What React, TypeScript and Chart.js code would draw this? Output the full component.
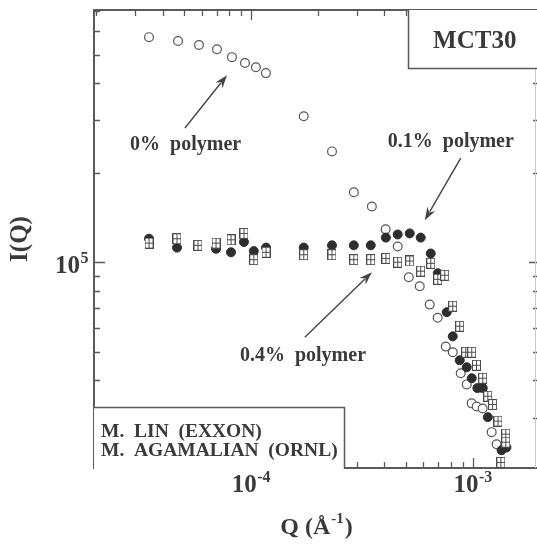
import React, { useEffect, useRef } from "react";
import { Chart, registerables } from "chart.js";

Chart.register(...registerables);

// ---- data (Q in 1/Å, I(Q) arbitrary) ----
const q0 = [3.47e-5, 4.69e-5, 5.83e-5, 7.03e-5, 8.21e-5, 9.4e-5, 1.053e-4, 1.168e-4, 1.73e-4, 2.32e-4, 2.91e-4, 3.51e-4, 4.05e-4, 4.59e-4, 5.15e-4, 5.77e-4, 6.4e-4, 6.95e-4, 7.56e-4, 8.13e-4, 8.83e-4, 9.4e-4, 9.89e-4, 1.042e-3, 1.109e-3, 1.218e-3, 1.282e-3];
const i0 = [5.72e5, 5.55e5, 5.38e5, 5.21e5, 4.9e5, 4.68e5, 4.53e5, 4.33e5, 3.1e5, 2.36e5, 1.72e5, 1.54e5, 1.29e5, 1.13e5, 8.9e4, 8.3e4, 7.2e4, 6.5e4, 5.2e4, 4.98e4, 4.23e4, 3.88e4, 3.35e4, 3.27e4, 3.22e4, 2.68e4, 2.44e4];

const q01 = [3.47e-5, 4.64e-5, 6.96e-5, 8.13e-5, 9.3e-5, 1.03e-4, 1.17e-4, 1.73e-4, 2.32e-4, 2.91e-4, 3.47e-4, 4.06e-4, 4.59e-4, 5.2e-4, 5.83e-4, 6.47e-4, 6.96e-4, 7.64e-4, 8.13e-4, 8.74e-4, 9.4e-4, 9.9e-4, 1.05e-3, 1.11e-3, 1.17e-3, 1.35e-3, 1.42e-3];
const i01 = [1.2e5, 1.12e5, 1.11e5, 1.08e5, 1.17e5, 1.09e5, 1.12e5, 1.12e5, 1.14e5, 1.14e5, 1.14e5, 1.21e5, 1.24e5, 1.25e5, 1.21e5, 1.07e5, 9.18e4, 6.79e4, 5.63e4, 4.68e4, 4.43e4, 4.07e4, 3.77e4, 3.77e4, 3.01e4, 2.33e4, 2.38e4];

const q04 = [3.47e-5, 4.64e-5, 5.77e-5, 6.96e-5, 8.13e-5, 9.3e-5, 1.03e-4, 1.17e-4, 1.73e-4, 2.32e-4, 2.91e-4, 3.47e-4, 4.06e-4, 4.59e-4, 5.2e-4, 5.83e-4, 6.47e-4, 6.96e-4, 7.48e-4, 8.13e-4, 8.74e-4, 9.3e-4, 9.9e-4, 1.04e-3, 1.11e-3, 1.17e-3, 1.23e-3, 1.3e-3, 1.41e-3, 1.41e-3, 1.34e-3];
const i04 = [1.16e5, 1.2e5, 1.14e5, 1.16e5, 1.19e5, 1.25e5, 1.02e5, 1.08e5, 1.06e5, 1.06e5, 1.02e5, 1.02e5, 1.03e5, 1.0e5, 1.01e5, 9.33e4, 9.92e4, 8.76e4, 9.04e4, 7.11e4, 6.09e4, 4.98e4, 4.98e4, 4.5e4, 4.07e4, 3.54e4, 3.32e4, 2.92e4, 2.64e4, 2.48e4, 2.12e4];

// axis ranges and tick labels (as powers of ten)
const X_MIN = 1.96e-5;
const X_MAX = 1.95e-3;
const Y_MIN = 2.03e4;
const Y_MAX = 7.06e5;
const xLabelExps = [-4, -3];
const yLabelExps = [5];

// annotations (in data coordinates)
const notes = [
  { text: "0%  polymer", q: 2.85e-5, i: 2.48e5 },
  { text: "0.1%  polymer", q: 4.14e-4, i: 2.54e5 },
  { text: "0.4%  polymer", q: 8.92e-5, i: 4.83e4 },
];
const arrows = [
  { q1: 5.04e-5, i1: 2.83e5, q2: 7.8e-5, i2: 4.26e5 },
  { q1: 8.83e-4, i1: 2.24e5, q2: 6.08e-4, i2: 1.385e5 },
  { q1: 1.75e-4, i1: 5.59e4, q2: 3.51e-4, i2: 9.25e4 },
];
const titleBox = { text: "MCT30", qLeft: 5.09e-4, iBottom: 4.5e5 };
const creditBox = { lines: ["M.  LIN  (EXXON)", "M.  AGAMALIAN  (ORNL)"], qRight: 2.62e-4, iTop: 3.25e4 };

const FONT = '"Liberation Serif", "Times New Roman", serif';
const INK = "#3a3a3a";
const FRAME = "#5a5a5a";

function makeGridSquare(): HTMLCanvasElement {
  const c = document.createElement("canvas");
  c.width = 9;
  c.height = 11;
  const g = c.getContext("2d")!;
  g.fillStyle = "#fff";
  g.fillRect(0, 0, 9, 11);
  g.strokeStyle = "#4a4a4a";
  g.lineWidth = 1;
  g.strokeRect(0.5, 0.5, 8, 10);
  g.beginPath();
  g.moveTo(4.5, 0.5);
  g.lineTo(4.5, 10.5);
  g.moveTo(0.5, 5.5);
  g.lineTo(8.5, 5.5);
  g.stroke();
  return c;
}

function drawPow(ctx: CanvasRenderingContext2D, exp: string, x: number, y: number, align: "center" | "right", big: number, small: number, rise: number) {
  ctx.font = `bold ${big}px ${FONT}`;
  const w1 = ctx.measureText("10").width;
  ctx.font = `bold ${small}px ${FONT}`;
  const w2 = ctx.measureText(exp).width;
  const total = w1 + w2;
  const left = align === "center" ? x - total / 2 : x - total;
  ctx.textAlign = "left";
  ctx.textBaseline = "alphabetic";
  ctx.font = `bold ${big}px ${FONT}`;
  ctx.fillText("10", left, y);
  ctx.font = `bold ${small}px ${FONT}`;
  ctx.fillText(exp, left + w1 + 0.5, y - rise);
}

const decor = {
  id: "decor",
  beforeDatasetsDraw(chart: any) {
    const { ctx, chartArea: a, scales } = chart;
    const xs = scales.x;
    const ys = scales.y;
    ctx.save();
    ctx.strokeStyle = FRAME;
    ctx.lineWidth = 1.3;
    // x ticks (bottom, top)
    for (let e = -5; e <= -3; e++) {
      for (let k = 1; k <= 9; k++) {
        const v = k * Math.pow(10, e);
        if (v < X_MIN || v > X_MAX) continue;
        const px = Math.round(xs.getPixelForValue(v)) + 0.5;
        const len = k === 1 ? 10 : 6;
        ctx.beginPath();
        ctx.moveTo(px, a.bottom);
        ctx.lineTo(px, a.bottom - len);
        ctx.moveTo(px, a.top);
        ctx.lineTo(px, a.top + len);
        ctx.stroke();
      }
    }
    // y ticks (left, right)
    for (let e = 4; e <= 5; e++) {
      for (let k = 1; k <= 9; k++) {
        const v = k * Math.pow(10, e);
        if (v < Y_MIN || v > Y_MAX) continue;
        const py = Math.round(ys.getPixelForValue(v)) + 0.5;
        const len = k === 1 ? 11 : 6;
        ctx.beginPath();
        ctx.moveTo(a.left, py);
        ctx.lineTo(a.left + len, py);
        ctx.moveTo(a.right, py);
        ctx.lineTo(a.right - (k === 1 ? 8 : 4), py);
        ctx.stroke();
      }
    }
    // frame
    ctx.lineWidth = 2;
    ctx.strokeStyle = FRAME;
    ctx.beginPath();
    ctx.moveTo(a.right, a.top);
    ctx.lineTo(a.left, a.top);
    ctx.lineTo(a.left, a.bottom);
    ctx.lineTo(a.right, a.bottom);
    ctx.stroke();
    ctx.strokeStyle = "#c8c8c8";
    ctx.lineWidth = 1;
    ctx.beginPath();
    ctx.moveTo(a.right - 1.5, a.top);
    ctx.lineTo(a.right - 1.5, a.bottom);
    ctx.stroke();

    // tick labels
    ctx.fillStyle = INK;
    xLabelExps.forEach((e) => {
      const px = xs.getPixelForValue(Math.pow(10, e));
      drawPow(ctx, String(e), px, 492, "center", 25, 16, 10);
    });
    yLabelExps.forEach((e) => {
      const py = ys.getPixelForValue(Math.pow(10, e));
      drawPow(ctx, String(e), 88, py + 11, "right", 25, 16, 10);
    });

    // axis titles
    const cx = (a.left + a.right) / 2;
    ctx.font = `bold 24px ${FONT}`;
    const p1 = "Q (Å";
    const w1 = ctx.measureText(p1).width;
    ctx.font = `bold 15px ${FONT}`;
    const p2 = "-1";
    const w2 = ctx.measureText(p2).width;
    ctx.font = `bold 24px ${FONT}`;
    const w3 = ctx.measureText(")").width;
    let sx = cx - (w1 + w2 + w3) / 2;
    ctx.textAlign = "left";
    ctx.textBaseline = "alphabetic";
    ctx.fillText(p1, sx, 534);
    ctx.font = `bold 15px ${FONT}`;
    ctx.fillText(p2, sx + w1 + 1, 523);
    ctx.font = `bold 24px ${FONT}`;
    ctx.fillText(")", sx + w1 + w2 + 2, 534);

    ctx.save();
    ctx.translate(21, (a.top + a.bottom) / 2);
    ctx.rotate(-Math.PI / 2);
    ctx.textAlign = "center";
    ctx.textBaseline = "middle";
    ctx.font = `bold 25px ${FONT}`;
    ctx.fillText("I(Q)", 0, 0);
    ctx.restore();
    ctx.restore();
  },
  afterDatasetsDraw(chart: any) {
    const { ctx, chartArea: a, scales } = chart;
    const xs = scales.x;
    const ys = scales.y;
    ctx.save();
    // title box
    const bl = Math.round(xs.getPixelForValue(titleBox.qLeft)) + 0.5;
    const bb = Math.round(ys.getPixelForValue(titleBox.iBottom)) + 0.5;
    ctx.fillStyle = "#fff";
    ctx.fillRect(bl, a.top, a.right - bl + 2, bb - a.top);
    ctx.strokeStyle = FRAME;
    ctx.lineWidth = 1.5;
    ctx.beginPath();
    ctx.moveTo(bl, a.top);
    ctx.lineTo(bl, bb);
    ctx.lineTo(a.right + 2, bb);
    ctx.stroke();
    ctx.fillStyle = INK;
    ctx.font = `bold 25px ${FONT}`;
    ctx.textAlign = "center";
    ctx.textBaseline = "middle";
    ctx.fillText(titleBox.text, (bl + a.right) / 2 + 2, (a.top + bb) / 2 + 2);

    // credit box
    const cr = Math.round(xs.getPixelForValue(creditBox.qRight)) + 0.5;
    const ct = Math.round(ys.getPixelForValue(creditBox.iTop)) + 0.5;
    ctx.fillStyle = "#fff";
    ctx.fillRect(a.left, ct, cr - a.left, a.bottom - ct + 1);
    ctx.beginPath();
    ctx.moveTo(a.left, ct);
    ctx.lineTo(cr, ct);
    ctx.lineTo(cr, a.bottom + 1);
    ctx.stroke();
    ctx.fillStyle = INK;
    ctx.font = `bold 19.5px ${FONT}`;
    ctx.textAlign = "left";
    ctx.textBaseline = "alphabetic";
    creditBox.lines.forEach((t, k) => ctx.fillText(t, a.left + 7, ct + 29 + k * 19));

    // annotations
    ctx.font = `bold 20px ${FONT}`;
    ctx.textBaseline = "middle";
    notes.forEach((n) => ctx.fillText(n.text, xs.getPixelForValue(n.q), ys.getPixelForValue(n.i)));

    ctx.strokeStyle = "#444";
    ctx.fillStyle = "#444";
    ctx.lineWidth = 1.4;
    arrows.forEach((r) => {
      const x1 = xs.getPixelForValue(r.q1);
      const y1 = ys.getPixelForValue(r.i1);
      const x2 = xs.getPixelForValue(r.q2);
      const y2 = ys.getPixelForValue(r.i2);
      const ang = Math.atan2(y2 - y1, x2 - x1);
      const L = 13;
      const W = 4.5;
      const bx = x2 - L * Math.cos(ang);
      const by = y2 - L * Math.sin(ang);
      ctx.beginPath();
      ctx.moveTo(x1, y1);
      ctx.lineTo(bx + 3 * Math.cos(ang), by + 3 * Math.sin(ang));
      ctx.stroke();
      ctx.beginPath();
      ctx.moveTo(x2, y2);
      ctx.lineTo(bx - W * Math.sin(ang), by + W * Math.cos(ang));
      ctx.lineTo(bx + 4 * Math.cos(ang), by + 4 * Math.sin(ang));
      ctx.lineTo(bx + W * Math.sin(ang), by - W * Math.cos(ang));
      ctx.closePath();
      ctx.fill();
    });
    ctx.restore();
  },
};

export default function App() {
  const ref = useRef<HTMLCanvasElement | null>(null);
  useEffect(() => {
    if (!ref.current) return;
    const sq = makeGridSquare();
    const toPts = (qs: number[], is: number[]) => qs.map((q, k) => ({ x: q, y: is[k] }));
    const chart = new Chart(ref.current, {
      type: "scatter",
      data: {
        datasets: [
          {
            label: "0.4% polymer",
            data: toPts(q04, i04),
            pointStyle: sq as any,
            pointRadius: 5,
            order: 1,
          },
          {
            label: "0.1% polymer",
            data: toPts(q01, i01),
            pointStyle: "circle",
            pointRadius: 4.5,
            backgroundColor: "#2e2e2e",
            borderColor: "#2e2e2e",
            borderWidth: 1,
            order: 2,
          },
          {
            label: "0% polymer",
            data: toPts(q0, i0),
            pointStyle: "circle",
            pointRadius: 4.4,
            backgroundColor: "#fff",
            borderColor: "#555",
            borderWidth: 1.2,
            order: 3,
          },
        ],
      },
      options: {
        responsive: false,
        maintainAspectRatio: false,
        animation: false,
        events: [],
        layout: { autoPadding: false, padding: { left: 94, top: 10, right: 0, bottom: 76 } },
        plugins: { legend: { display: false }, tooltip: { enabled: false } },
        scales: {
          x: { type: "logarithmic", min: X_MIN, max: X_MAX, display: false },
          y: { type: "logarithmic", min: Y_MIN, max: Y_MAX, display: false },
        },
      },
      plugins: [decor],
    });
    return () => chart.destroy();
  }, []);
  return (
    <div style={{ position: "fixed", left: 0, top: 0, width: 537, height: 544, overflow: "hidden", background: "#fff" }}>
      <canvas ref={ref} width={537} height={544} style={{ display: "block" }} />
    </div>
  );
}
